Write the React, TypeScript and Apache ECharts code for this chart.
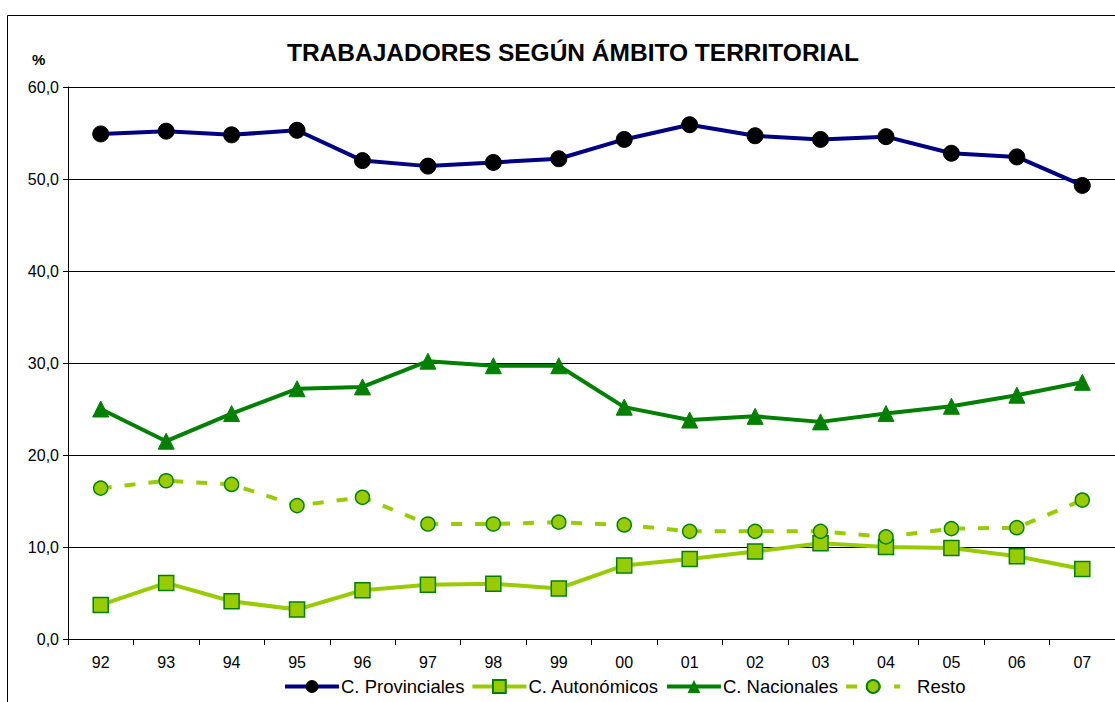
import React, { useEffect, useRef } from "react";
import * as echarts from "echarts";

const years = ["92", "93", "94", "95", "96", "97", "98", "99", "00", "01", "02", "03", "04", "05", "06", "07"];
const provinciales = [54.9, 55.2, 54.8, 55.3, 52.0, 51.4, 51.8, 52.2, 54.3, 55.9, 54.7, 54.3, 54.6, 52.8, 52.4, 49.3];
const autonomicos = [3.7, 6.1, 4.1, 3.2, 5.3, 5.9, 6.0, 5.5, 8.0, 8.7, 9.5, 10.4, 10.0, 9.9, 9.0, 7.6];
const nacionales = [25.0, 21.5, 24.5, 27.2, 27.4, 30.2, 29.7, 29.7, 25.2, 23.8, 24.2, 23.6, 24.5, 25.3, 26.5, 27.9];
const resto = [16.4, 17.2, 16.8, 14.5, 15.4, 12.5, 12.5, 12.7, 12.4, 11.7, 11.7, 11.7, 11.1, 12.0, 12.1, 15.1];

const FONT = "Arial, 'Liberation Sans', sans-serif";

export default function App() {
  const ref = useRef<HTMLDivElement>(null);
  useEffect(() => {
    if (!ref.current) return;
    const chart = echarts.init(ref.current, null, { renderer: "svg" });
    chart.setOption({
      animation: false,
      backgroundColor: "#fff",
      title: {
        text: "TRABAJADORES SEGÚN ÁMBITO TERRITORIAL",
        left: 568,
        top: 35,
        textAlign: "center",
        textStyle: { fontFamily: FONT, fontSize: 24.5, fontWeight: "bold", color: "#000" },
      },
      graphic: [
        {
          type: "rect",
          shape: { x: 7.5, y: 15.5, width: 1300, height: 900 },
          style: { fill: "none", stroke: "#000", lineWidth: 1 },
          silent: true,
        },
        {
          type: "text",
          left: 32,
          top: 52,
          style: { text: "%", fontFamily: FONT, fontSize: 15, fontWeight: "bold", fill: "#000" },
        },
      ],
      legend: {
        bottom: 1,
        left: 278,
        itemWidth: 54,
        itemHeight: 16,
        itemGap: 6,
        lineStyle: { width: 4 },
        textStyle: { fontFamily: FONT, fontSize: 18.5, color: "#000", padding: [0, 0, 0, -3] },
        data: [
          "C. Provinciales",
          "C. Autonómicos",
          "C. Nacionales",
          { name: "Resto", textStyle: { padding: [0, 0, 0, 12] } },
        ],
      },
      grid: { left: 68, right: -1, top: 87, bottom: 63, containLabel: false },
      xAxis: {
        type: "category",
        data: years,
        boundaryGap: true,
        axisLine: { lineStyle: { color: "#000", width: 1 } },
        axisTick: { show: true, length: 6, lineStyle: { color: "#000" } },
        axisLabel: { fontFamily: FONT, fontSize: 16, color: "#000", margin: 15 },
      },
      yAxis: {
        type: "value",
        min: 0,
        max: 60,
        interval: 10,
        axisLine: { show: true, lineStyle: { color: "#000", width: 1 } },
        axisTick: { show: true, length: 5, lineStyle: { color: "#000" } },
        axisLabel: {
          fontFamily: FONT,
          fontSize: 16,
          color: "#000",
          margin: 9,
          formatter: (v: number) => v.toFixed(1).replace(".", ","),
        },
        splitLine: { show: true, lineStyle: { color: "#000", width: 1 } },
      },
      series: [
        {
          name: "C. Provinciales",
          type: "line",
          data: provinciales,
          symbol: "circle",
          symbolSize: 16,
          lineStyle: { color: "#000080", width: 4 },
          itemStyle: { color: "#000", borderColor: "#000" },
          z: 4,
        },
        {
          name: "C. Autonómicos",
          type: "line",
          data: autonomicos,
          symbol: "rect",
          symbolSize: 15,
          lineStyle: { color: "#99CC00", width: 4 },
          itemStyle: { color: "#99CC00", borderColor: "#008000", borderWidth: 1.5 },
          z: 2,
        },
        {
          name: "C. Nacionales",
          type: "line",
          data: nacionales,
          symbol: "triangle",
          symbolSize: 16,
          lineStyle: { color: "#008000", width: 4 },
          itemStyle: { color: "#008000", borderColor: "#008000" },
          z: 3,
        },
        {
          name: "Resto",
          type: "line",
          data: resto,
          symbol: "circle",
          symbolSize: 14,
          lineStyle: { color: "#99CC00", width: 4, type: [11, 13] },
          itemStyle: { color: "#99CC00", borderColor: "#008000", borderWidth: 1.5 },
          z: 3,
        },
      ],
    });
    return () => chart.dispose();
  }, []);
  return (
    <div
      ref={ref}
      style={{ position: "fixed", left: 0, top: 0, width: 1115, height: 702 }}
    />
  );
}
